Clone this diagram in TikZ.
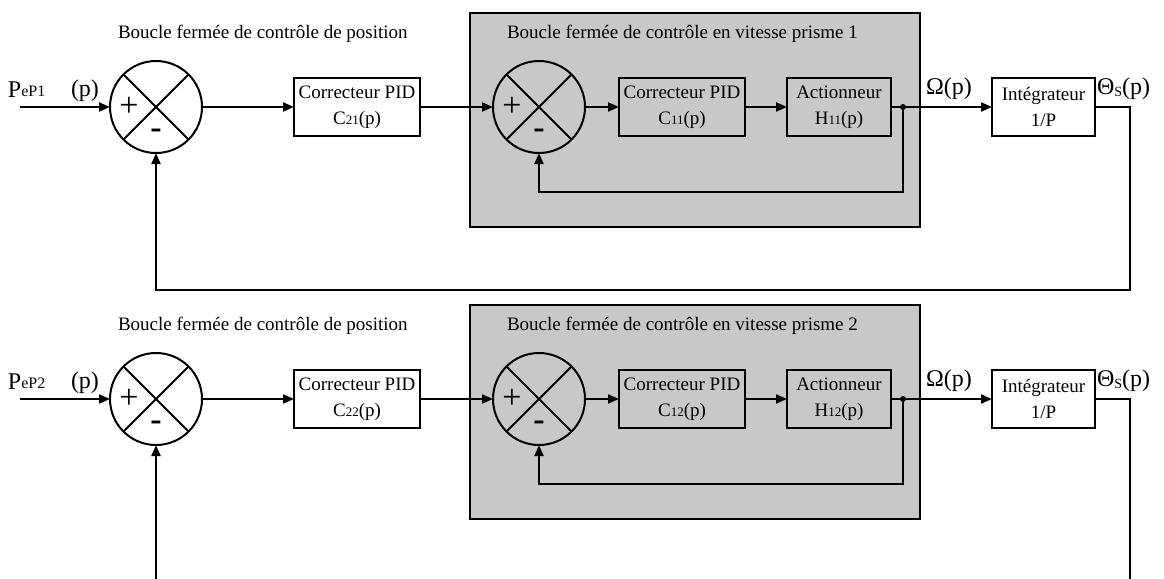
\documentclass[tikz,border=0pt]{standalone}
\usepackage{fontspec}
\setmainfont{Liberation Serif}
\usetikzlibrary{arrows.meta,positioning}
\definecolor{loopgray}{RGB}{200,200,200}
\newcommand{\fsz}[1]{\fontsize{#1}{#1}\selectfont}
\newcommand{\sml}[1]{{\fontsize{13}{13}\selectfont #1}}

\begin{document}
\begin{tikzpicture}[x=1pt, y=-1pt,
  line width=2pt,
  every node/.style={font=\fontsize{19}{26}\selectfont, inner sep=0pt, outer sep=0pt},
  summer/.style={draw, circle, minimum size=92pt},
  block/.style={draw, fill=white, minimum width=126pt, minimum height=58pt, align=center},
  innerblock/.style={block, fill=loopgray},
  zone/.style={draw, fill=loopgray, minimum width=450pt, minimum height=214pt},
  sig/.style={font=\fontsize{24}{24}\selectfont, anchor=base west},
  arr/.style={-{Triangle[length=11pt,width=9pt]}},
  junction/.style={circle, fill, minimum size=6pt}]
\useasboundingbox (0,0) rectangle (1164,578);
\clip (0,0) rectangle (1164,578);
\foreach \r/\oy/\fb/\ca/\cb in {1/0/290/21/11, 2/292/600/22/12} {
  % speed loop frame
  \node[zone] (zone\r) at (695,120+\oy) {};
  \node[anchor=base west] (ttl\r) at (507,38+\oy) {Boucle fermée de contrôle en vitesse prisme \r};
  \node[anchor=base west] (pos\r) at (118,38+\oy) {Boucle fermée de contrôle de position};
  % blocks
  \node[summer] (suma\r) at (156,107+\oy) {};
  \node[block, right=92pt of suma\r] (cpos\r) {Correcteur PID\\C\sml{\ca}(p)};
  \node[summer, right=73pt of cpos\r] (sumb\r) {};
  \node[innerblock, right=34pt of sumb\r] (cvit\r) {Correcteur PID\\C\sml{\cb}(p)};
  \node[innerblock, minimum width=104pt, right=42pt of cvit\r] (act\r) {Actionneur\\H\sml{\cb}(p)};
  \node[junction, right=9pt of act\r] (jn\r) {};
  \node[block, minimum width=103pt, right=101pt of act\r] (integ\r) {Intégrateur\\1/P};
  % summing junction signs
  \foreach \s in {suma\r, sumb\r} {
    \draw (\s.north west) -- (\s.south east) (\s.north east) -- (\s.south west);
    \node[font=\fsz{34}, xshift=-27pt] at (\s) {+};
    \node[font=\fsz{34}, yshift=-27pt] at (\s) {\textbf{-}};
  }
  % signals
  \node[sig] (pin\r) at (8,97+\oy) {P\raisebox{1pt}{\fsz{16}eP\r}};
  \node[sig] (pp\r) at (71,96+\oy) {(p)};
  \node[sig] (om\r) at (926,94+\oy) {Ω(p)};
  \node[sig] (th\r) at (1097,94+\oy) {Θ\raisebox{-2pt}{\fsz{14}S}(p)};
  % connectors
  \coordinate (in\r) at (20,107+\oy);
  \coordinate (ret\r) at (1130,\fb);
  \draw[arr] (in\r) -- (suma\r);
  \draw[arr] (suma\r) -- (cpos\r);
  \draw[arr] (cpos\r) -- (sumb\r);
  \draw[arr] (sumb\r) -- (cvit\r);
  \draw[arr] (cvit\r) -- (act\r);
  \draw (act\r) -- (jn\r);
  \draw[arr] (jn\r) -- (integ\r);
  \draw[arr] (jn\r) -- ++(0,85) -| (sumb\r);
  \draw[arr] (integ\r) -| (ret\r) -| (suma\r);
}
\end{tikzpicture}
\end{document}
